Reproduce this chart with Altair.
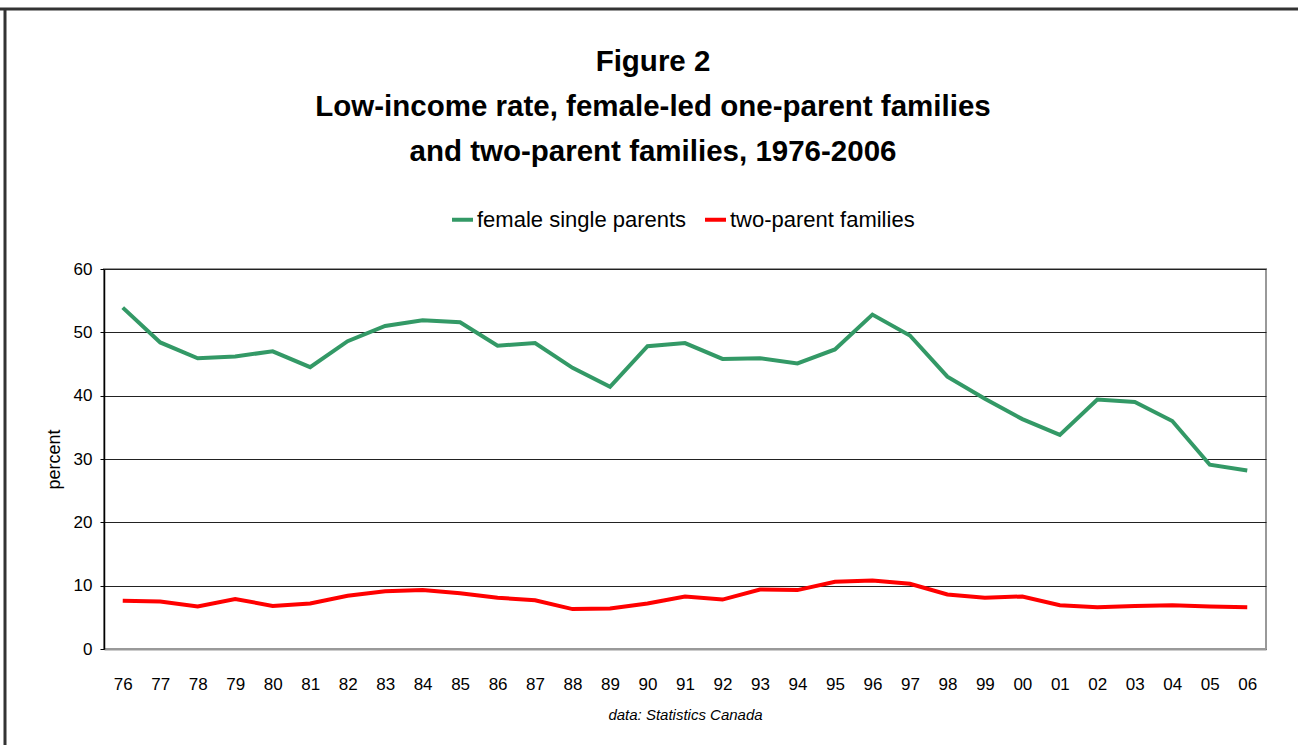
import altair as alt
import pandas as pd

years = ["76", "77", "78", "79", "80", "81", "82", "83", "84", "85", "86", "87", "88", "89", "90",
         "91", "92", "93", "94", "95", "96", "97", "98", "99", "00", "01", "02", "03", "04", "05", "06"]
female_single = [53.9, 48.4, 45.9, 46.2, 47.0, 44.5, 48.6, 51.0, 51.9, 51.6, 47.9, 48.3, 44.4, 41.4, 47.8,
                 48.3, 45.8, 45.9, 45.1, 47.3, 52.8, 49.5, 43.0, 39.5, 36.3, 33.8, 39.4, 39.0, 36.0, 29.1, 28.2]
two_parent = [7.6, 7.5, 6.7, 7.9, 6.8, 7.2, 8.4, 9.1, 9.3, 8.8, 8.1, 7.7, 6.3, 6.4, 7.2,
              8.3, 7.8, 9.4, 9.3, 10.6, 10.8, 10.3, 8.6, 8.1, 8.3, 6.9, 6.6, 6.8, 6.9, 6.7, 6.6]
series_names = ["female single parents", "two-parent families"]
series_colors = ["#339966", "#ff0000"]

rows = []
for i, y in enumerate(years):
    rows.append({"year": y, "series": series_names[0], "value": female_single[i]})
    rows.append({"year": y, "series": series_names[1], "value": two_parent[i]})
df = pd.DataFrame(rows)

FONT = "Liberation Sans, Arial, sans-serif"

lines = alt.Chart(df).mark_line(strokeWidth=4).encode(
    x=alt.X("year:N", sort=years,
            scale=alt.Scale(paddingInner=0, paddingOuter=0.5),
            axis=alt.Axis(title="data: Statistics Canada", labelAngle=0, ticks=False,
                          labelPadding=27, labelFontSize=17, labelFont=FONT, labelColor="#000",
                          domainColor="#999999", domainWidth=2, grid=False,
                          titleFont=FONT, titleFontSize=15, titleFontStyle="italic",
                          titleFontWeight="normal", titlePadding=15, titleColor="#000")),
    y=alt.Y("value:Q", scale=alt.Scale(domain=[0, 60]),
            axis=alt.Axis(title="percent", values=[0, 10, 20, 30, 40, 50, 60],
                          labelFontSize=17, labelFont=FONT, labelColor="#000", labelPadding=8,
                          tickSize=4, tickColor="#000", domainColor="#000", domainWidth=1.5,
                          gridColor="#222222", gridWidth=1,
                          titleFont=FONT, titleFontSize=18,
                          titleFontWeight="normal", titlePadding=10, titleColor="#000")),
    color=alt.Color("series:N", sort=series_names,
                    scale=alt.Scale(domain=series_names, range=series_colors),
                    legend=alt.Legend(title=None, orient="none", direction="horizontal",
                                      legendX=346, legendY=-62,
                                      symbolType="stroke", symbolSize=440, symbolStrokeWidth=4,
                                      labelFont=FONT, labelFontSize=22, labelColor="#000",
                                      labelLimit=400, labelOffset=2, columnPadding=10)),
)

border_top = alt.Chart().mark_rule(color="#333333", strokeWidth=3).encode(
    x=alt.value(-104), x2=alt.value(1194), y=alt.value(-260))
border_left = alt.Chart().mark_rule(color="#333333", strokeWidth=3).encode(
    x=alt.value(-99), y=alt.value(-260), y2=alt.value(476))

chart = alt.layer(lines, border_top, border_left).properties(
    width=1162, height=380,
    autosize=alt.AutoSizeParams(type="none"),
    padding={"left": 104, "top": 269, "right": 32, "bottom": 96},
    background="white",
    title=alt.TitleParams(
        text=["Figure 2", "Low-income rate, female-led one-parent families",
              "and two-parent families, 1976-2006"],
        anchor="middle", frame="group", font=FONT, fontSize=29.5, fontWeight="bold", color="#000",
        lineHeight=45, offset=-160, dx=-32),
).configure_view(stroke="#999999", strokeWidth=2)

chart.save("out.html", embed_options={"renderer": "svg", "actions": False})
